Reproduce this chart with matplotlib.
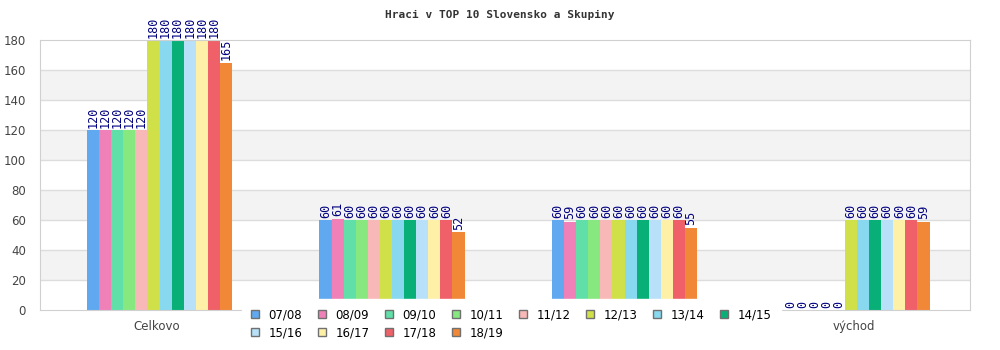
import numpy as np
import matplotlib
matplotlib.use("Agg")
import matplotlib.pyplot as plt
from matplotlib.patches import Patch

# data
categories = ["Celkovo", "západ", "stred", "východ"]
seasons = ["07/08", "08/09", "09/10", "10/11", "11/12", "12/13",
           "13/14", "14/15", "15/16", "16/17", "17/18", "18/19"]
values = [
    [120, 120, 120, 120, 120, 180, 180, 180, 180, 180, 180, 165],  # 07/08 .. 18/19 for Celkovo
    [60, 61, 60, 60, 60, 60, 60, 60, 60, 60, 60, 52],
    [60, 59, 60, 60, 60, 60, 60, 60, 60, 60, 60, 55],
    [0, 0, 0, 0, 0, 60, 60, 60, 60, 60, 60, 59],
]
colors = ["#60A8F0", "#F080B8", "#60E0A8", "#88E880", "#F8B8B8", "#D0E048",
          "#88D8F0", "#08B078", "#B8E0F8", "#FFF0A8", "#F06068", "#F08838"]

fig = plt.figure(figsize=(10, 3.5), dpi=100)
ax = fig.add_axes([0.04, 40 / 350, 0.93, 270 / 350])

# alternating bands + grid
for lo in range(20, 180, 40):
    ax.axhspan(lo, lo + 20, color="#F3F3F3", zorder=0, lw=0)
for y in range(20, 180, 20):
    ax.axhline(y, color="#DDDDDD", lw=1, zorder=0.5)

nser = len(seasons)
bw = 0.052
shift = 0.014
x = np.arange(len(categories))
for i, s in enumerate(seasons):
    vals = [row[i] for row in values]
    pos = x + shift - bw * nser / 2 + bw * (i + 0.5)
    ax.bar(pos, vals, bw, color=colors[i], zorder=2, label=s)
    for p, v in zip(pos, vals):
        ax.text(p, v + 1.5, str(v), rotation=90, ha="center", va="bottom",
                fontsize=8.5, color="#000080", family="DejaVu Sans Mono", zorder=3)

ax.set_xlim(-0.5, len(categories) - 0.5)
ax.set_ylim(0, 180)
ax.set_yticks(range(0, 181, 20))
ax.set_xticks(x)
ax.set_xticklabels(categories)
ax.tick_params(axis="both", length=0, labelsize=8.5, colors="#444444")
ax.tick_params(axis="x", pad=7)
ax.tick_params(axis="y", pad=10)
for sp in ax.spines.values():
    sp.set_color("#D0D0D0")
# the middle category labels sit under the legend in the original
for lbl in ax.get_xticklabels()[1:3]:
    lbl.set_visible(False)

fig.suptitle("Hraci v TOP 10 Slovensko a Skupiny", x=0.5, y=0.972,
             fontsize=8, fontweight="bold", family="DejaVu Sans Mono", color="#333333")

# legend filled row by row (matplotlib fills by column)
order = [0, 8, 1, 9, 2, 10, 3, 11, 4, 5, 6, 7]
handles = [Patch(facecolor=colors[k], edgecolor="#707070", lw=1) for k in order]
labels = [seasons[k] for k in order]
leg = fig.legend(handles, labels, ncol=8, loc="upper left",
                 bbox_to_anchor=(0.236, 1 - 293 / 350), fontsize=8.5,
                 frameon=True, fancybox=False, borderpad=0.8,
                 handlelength=0.65, handleheight=0.65, handletextpad=0.8,
                 columnspacing=1.35, labelspacing=0.42)
leg.get_frame().set_edgecolor("white")
leg.get_frame().set_facecolor("white")
leg.get_frame().set_alpha(1)
leg.set_zorder(10)

fig.savefig("out.png", dpi=100)
